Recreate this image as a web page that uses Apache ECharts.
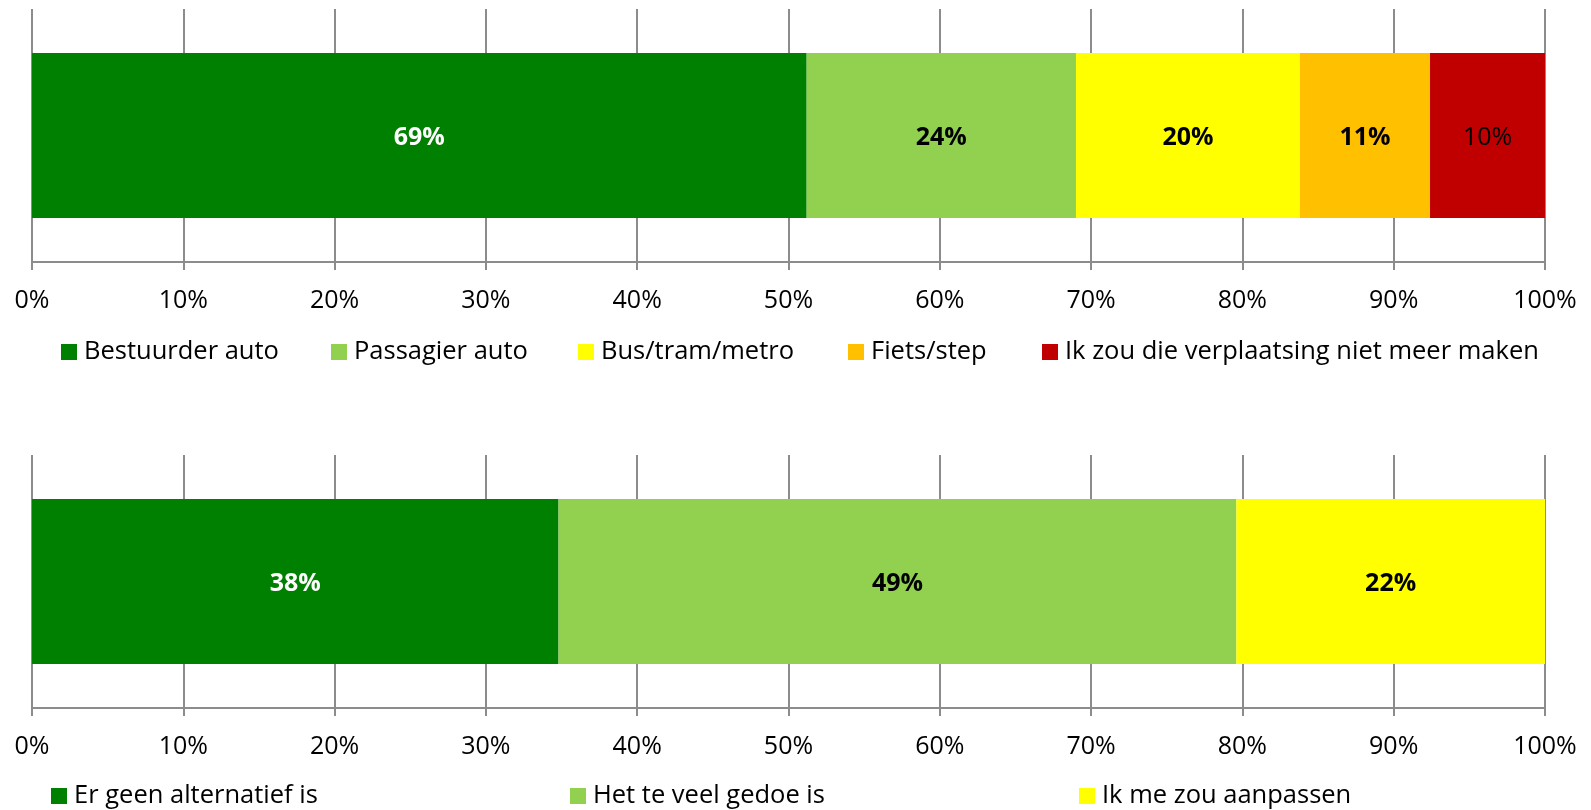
<!DOCTYPE html>
<html>
<head>
<meta charset="utf-8">
<script src="https://cdn.jsdelivr.net/npm/echarts@6/dist/echarts.min.js"></script>
<style>
  html, body { margin: 0; padding: 0; background: #fff; }
  #chart { width: 1591px; height: 810px; }
</style>
</head>
<body>
<div id="chart"></div>
<script>
// bovenste balk: vervoerswijze
var topNames = ['Bestuurder auto', 'Passagier auto', 'Bus/tram/metro', 'Fiets/step', 'Ik zou die verplaatsing niet meer maken'];
var topShares = [51.2, 17.8, 14.8, 8.6, 7.6];     // breedte van elk deel (% van de balk)
var topLabels = [69, 24, 20, 11, 10];              // getoonde percentages

// onderste balk: reden
var bottomNames = ['Er geen alternatief is', 'Het te veel gedoe is', 'Ik me zou aanpassen'];
var bottomShares = [34.8, 44.8, 20.4];
var bottomLabels = [38, 49, 22];

var xTicks = [0, 10, 20, 30, 40, 50, 60, 70, 80, 90, 100];

// opmaak
var topColors = ['#008000', '#92D050', '#FFFF00', '#FFC000', '#C00000'];
var topLabelColors = ['#ffffff', '#000000', '#000000', '#000000', '#000000'];
var topLabelWeights = ['bold', 'bold', 'bold', 'bold', 'normal'];
var bottomColors = ['#008000', '#92D050', '#FFFF00'];
var bottomLabelColors = ['#ffffff', '#000000', '#000000'];
var topLegendLeft = [61, 331, 578, 848, 1042];
var bottomLegendLeft = [51, 570, 1079];

var FONT = '"Open Sans", "Noto Sans", sans-serif';
var GRAY = '#8c8c8c';

var myChart = echarts.init(document.getElementById('chart'));

function makeXAxis(gridIndex){
    return {
        type: 'value',
        gridIndex: gridIndex,
        min: xTicks[0],
        max: xTicks[xTicks.length - 1],
        interval: xTicks[1] - xTicks[0],
        axisLine: { show: true, lineStyle: { color: GRAY, width: 2 } },
        axisTick: { show: true, length: 8, lineStyle: { color: GRAY, width: 2 } },
        axisLabel: {
            formatter: '{value}%',
            color: '#000',
            fontFamily: FONT,
            fontSize: 25,
            margin: 26
        },
        splitLine: { show: true, showMinLine: true, showMaxLine: true, lineStyle: { color: GRAY, width: 2 } }
    };
}

function makeYAxis(gridIndex){
    return {
        type: 'category',
        gridIndex: gridIndex,
        data: [''],
        axisLine: { show: false },
        axisTick: { show: false },
        axisLabel: { show: false }
    };
}

function makeSeries(names, shares, labels, colors, labelColors, weights, idx){
    return names.map(function(name, i){
        return {
            name: name,
            type: 'bar',
            stack: 'total' + idx,
            xAxisIndex: idx,
            yAxisIndex: idx,
            barWidth: 165,
            itemStyle: { color: colors[i] },
            label: {
                show: true,
                position: 'inside',
                offset: [0, 2],
                formatter: labels[i] + '%',
                color: labelColors[i],
                fontWeight: weights ? weights[i] : 'bold',
                fontFamily: FONT,
                fontSize: 25
            },
            emphasis: { disabled: true },
            data: [shares[i]]
        };
    });
}

function makeLegends(names, lefts, top){
    return names.map(function(name, i){
        return {
            data: [name],
            left: lefts[i],
            top: top,
            padding: 0,
            icon: 'rect',
            itemWidth: 16,
            itemHeight: 16,
            selectedMode: false,
            textStyle: {
                fontFamily: FONT,
                fontSize: 25.5,
                color: '#000',
                padding: [0, 0, 0, 2]
            }
        };
    });
}

var option = {
    animation: false,
    grid: [
        { left: 32, width: 1513, top: 9, height: 253 },
        { left: 32, width: 1513, top: 455, height: 253 }
    ],
    xAxis: [makeXAxis(0), makeXAxis(1)],
    yAxis: [makeYAxis(0), makeYAxis(1)],
    legend: makeLegends(topNames, topLegendLeft, 339).concat(makeLegends(bottomNames, bottomLegendLeft, 783)),
    series: makeSeries(topNames, topShares, topLabels, topColors, topLabelColors, topLabelWeights, 0)
        .concat(makeSeries(bottomNames, bottomShares, bottomLabels, bottomColors, bottomLabelColors, null, 1))
};

myChart.setOption(option);
</script>
</body>
</html>
